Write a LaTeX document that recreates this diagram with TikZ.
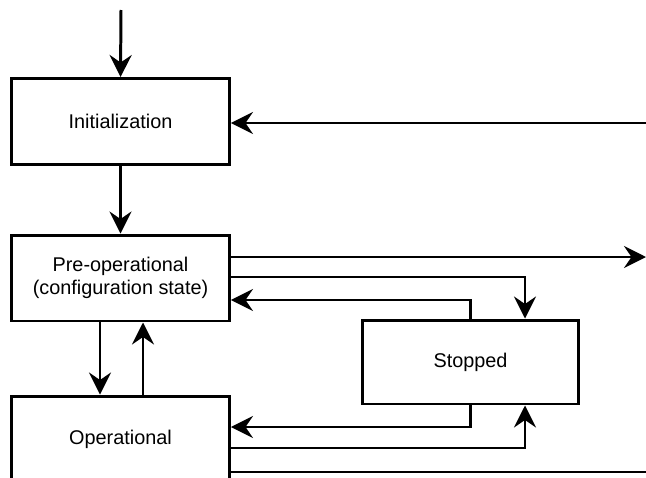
\documentclass[tikz,border=0pt]{standalone}
\usepackage{fontspec}
\setmainfont{Liberation Sans}
\usepackage{tikz}
\usetikzlibrary{arrows.meta,calc}

\begin{document}
\begin{tikzpicture}[
    x=0.02cm, y=-0.02cm,
    state/.style={draw, line width=1.7pt, minimum width=4.36cm, minimum height=1.72cm,
        align=center, font=\fontsize{11.3}{13.3}\selectfont},
    flow/.style={line width=1.7pt, -{Stealth[length=0.44cm, width=0.44cm, inset=0.15cm]}},
]
\useasboundingbox (0,0) rectangle (646,477);
\clip (0,0) rectangle (646,477);

% states
\node[state] (init) at (120.5, 121.5) {Initialization};
\node[state] (preop) at (120.5, 278) {Pre-operational\\(configuration state)};
\node[state] (op) at (120.5, 439) {Operational};
\node[state, minimum width=4.34cm, minimum height=1.68cm] (stopped) at (470.5, 362) {Stopped};

% free ends
\coordinate (start) at (121, 10);
\coordinate (inR) at (646, 123);
\coordinate (outR) at (646, 257);
\coordinate (botR) at (646, 472);

% transitions
\draw[flow] (start) -- (init.north);
\draw[flow] (init.south) -- (preop.north);
\draw[flow] (inR) -- (init.east |- inR);
\draw[flow] (preop.east |- outR) -- (outR);
\draw[flow] (preop.east |- 0,277) -| (stopped.north -| 525,0);
\draw[flow] (stopped.north) |- (preop.east |- 0,300);
\draw[flow] (preop.south -| 100,0) -- (op.north -| 100,0);
\draw[flow] (op.north -| 143,0) -- (preop.south -| 143,0);
\draw[flow] (stopped.south) |- (op.east |- 0,427);
\draw[flow] (op.east |- 0,448) -| (stopped.south -| 525,0);
\draw[line width=1.7pt] (op.east |- botR) -- (botR);
\end{tikzpicture}
\end{document}
